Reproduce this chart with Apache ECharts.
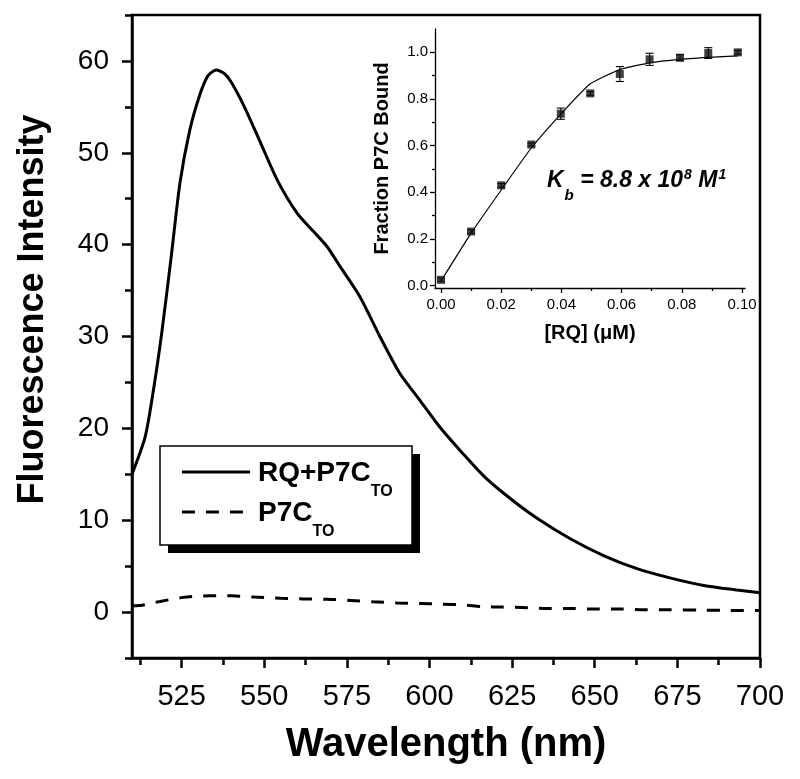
<!DOCTYPE html>
<html>
<head>
<meta charset="utf-8">
<script src="https://cdn.jsdelivr.net/npm/echarts@6/dist/echarts.min.js"></script>
<style>
html,body{margin:0;padding:0;background:#fff;}
#c{width:800px;height:779px;}
</style>
</head>
<body>
<div id="c"></div>
<script>
// ---- main spectrum data ----
const wlSolid = [510,514,516.5,519,522,524.5,527.5,530.5,533,535.5,538,540,544,549,554,560,565,569,573,579,585,591,597,603,610,617,625,633,643,653,663,673,683,693,700];
const fluorSolid = [15.0,19.1,24.2,30.4,39.1,46.7,52.5,56.3,58.4,59.0,58.6,57.7,55.0,51.0,47.0,43.4,41.4,39.8,37.6,34.3,30.0,26.0,23.1,20.2,17.3,14.6,12.2,10.1,7.9,6.1,4.7,3.7,2.9,2.4,2.1];
const wlDash = [510,513,518.5,525.5,533.5,540,547,555,562,569,576,583,590,597,604,610,616,622,628,636,643,650,658,665,672,682,691,700];
const fluorDash = [0.7,0.75,1.15,1.6,1.77,1.77,1.63,1.5,1.43,1.4,1.27,1.12,1.0,0.94,0.85,0.79,0.6,0.54,0.5,0.39,0.39,0.33,0.33,0.25,0.25,0.22,0.18,0.18];
const legendMain = ['RQ+P7C', 'P7C'];
const legendSub = ['TO', 'TO'];

// main axis ticks
const xMajorTicks = [525,550,575,600,625,650,675,700];
const xMinorTicks = [512.5,537.5,562.5,587.5,612.5,637.5,662.5,687.5];
const yMajorTicks = [0,10,20,30,40,50,60];
const yMinorTicks = [-5,5,15,25,35,45,55,65];

// ---- inset binding data ----
const rqConc = [0,0.01,0.02,0.03,0.0398,0.0496,0.0594,0.0693,0.0794,0.0888,0.0986];
const fracBound = [0.025,0.232,0.43,0.605,0.737,0.824,0.907,0.97,0.977,0.997,1.0];
const fracErr = [0.007,0.007,0.008,0.006,0.024,0.008,0.032,0.026,0.013,0.023,0.008];
const fitBound = [0.02,0.225,0.41,0.59,0.735,0.865,0.926,0.955,0.97,0.978,0.985];
const insetXMajor = [0,0.02,0.04,0.06,0.08,0.10];
const insetXMinor = [0.01,0.03,0.05,0.07,0.09];
const insetYMajor = [0,0.2,0.4,0.6,0.8,1.0];
const insetYMinor = [0.1,0.3,0.5,0.7,0.9];

const FONT = 'Liberation Sans, Arial, sans-serif';
const pairs = (xs, ys) => xs.map((x, i) => [x, ys[i]]);
const seriesNames = legendMain.map((m, i) => m + legendSub[i]);

const chart = echarts.init(document.getElementById('c'), null, {renderer: 'canvas'});

const richLegend = {
  m: {fontFamily: FONT, fontWeight: 'bold', fontSize: 28, lineHeight: 30, verticalAlign: 'middle', fill: '#000'},
  s: {fontFamily: FONT, fontWeight: 'bold', fontSize: 16, lineHeight: 16, padding: [38, 0, 0, 0], verticalAlign: 'middle', fill: '#000'}
};

// legend drawn as a framed box with a drop shadow
const LB = {x: 160, y: 446, w: 252, h: 99};
const legendGraphic = {
  type: 'group', z: 50,
  children: [
    {type: 'rect', shape: {x: LB.x + 8, y: LB.y + 8, width: LB.w, height: LB.h}, style: {fill: '#000'}},
    {type: 'rect', shape: {x: LB.x, y: LB.y, width: LB.w, height: LB.h}, style: {fill: '#fff', stroke: '#000', lineWidth: 1.5}},
    {type: 'line', shape: {x1: 182, y1: 472, x2: 250, y2: 472}, style: {stroke: '#000', lineWidth: 3}},
    {type: 'line', shape: {x1: 182, y1: 512, x2: 250, y2: 512}, style: {stroke: '#000', lineWidth: 3, lineDash: [13, 11]}},
    {type: 'text', x: 258, y: 473, style: {text: '{m|' + legendMain[0] + '}{s|' + legendSub[0] + '}', rich: richLegend, verticalAlign: 'middle', align: 'left'}},
    {type: 'text', x: 258, y: 513, style: {text: '{m|' + legendMain[1] + '}{s|' + legendSub[1] + '}', rich: richLegend, verticalAlign: 'middle', align: 'left'}}
  ]
};

const option = {
  backgroundColor: '#fff',
  animation: false,
  grid: [
    {left: 132, top: 15, right: 40, bottom: 121, show: true, borderColor: '#000', borderWidth: 2.5, backgroundColor: 'transparent'},
    {left: 435, top: 29, width: 310, height: 259}
  ],
  xAxis: [
    {
      type: 'value', gridIndex: 0, min: 510, max: 700, position: 'bottom',
      name: 'Wavelength (nm)', nameLocation: 'middle', nameGap: 67,
      nameTextStyle: {fontFamily: FONT, fontWeight: 'bold', fontSize: 40, color: '#000'},
      axisLine: {show: true, onZero: false, lineStyle: {color: '#000', width: 2.5}},
      axisTick: {show: true, length: 10, lineStyle: {color: '#000', width: 2.5}, customValues: xMajorTicks},
      axisLabel: {show: true, margin: 24, fontFamily: FONT, fontSize: 29, color: '#000', customValues: xMajorTicks},
      splitLine: {show: false}
    },
    {
      type: 'value', gridIndex: 0, min: 510, max: 700, position: 'bottom',
      axisLine: {show: false, onZero: false},
      axisTick: {show: true, length: 7, lineStyle: {color: '#000', width: 2.5}, customValues: xMinorTicks},
      axisLabel: {show: false},
      splitLine: {show: false}
    },
    {
      type: 'value', gridIndex: 1, min: -0.002, max: 0.101, position: 'bottom',
      name: '[RQ] (\u03BCM)', nameLocation: 'middle', nameGap: 35,
      nameTextStyle: {fontFamily: FONT, fontWeight: 'bold', fontSize: 20, color: '#000'},
      axisLine: {show: true, onZero: false, lineStyle: {color: '#000', width: 1.3}},
      axisTick: {show: true, length: 5, lineStyle: {color: '#000', width: 1.3}, customValues: insetXMajor},
      axisLabel: {show: true, margin: 9, fontFamily: FONT, fontSize: 15, color: '#000', customValues: insetXMajor,
        formatter: v => v.toFixed(2)},
      splitLine: {show: false}
    },
    {
      type: 'value', gridIndex: 1, min: -0.002, max: 0.101, position: 'bottom',
      axisLine: {show: false, onZero: false},
      axisTick: {show: true, length: 3, lineStyle: {color: '#000', width: 1.3}, customValues: insetXMinor},
      axisLabel: {show: false},
      splitLine: {show: false}
    }
  ],
  yAxis: [
    {
      type: 'value', gridIndex: 0, min: -5, max: 65, position: 'left',
      name: 'Fluorescence Intensity', nameLocation: 'middle', nameGap: 81,
      nameTextStyle: {fontFamily: FONT, fontWeight: 'bold', fontSize: 36, color: '#000', padding: [0, 0, 0, 54]},
      axisLine: {show: true, onZero: false, lineStyle: {color: '#000', width: 2.5}},
      axisTick: {show: true, length: 10, lineStyle: {color: '#000', width: 2.5}, customValues: yMajorTicks},
      axisLabel: {show: true, margin: 23, fontFamily: FONT, fontSize: 28, color: '#000', customValues: yMajorTicks},
      splitLine: {show: false}
    },
    {
      type: 'value', gridIndex: 0, min: -5, max: 65, position: 'left',
      axisLine: {show: false, onZero: false},
      axisTick: {show: true, length: 7, lineStyle: {color: '#000', width: 2.5}, customValues: yMinorTicks},
      axisLabel: {show: false},
      splitLine: {show: false}
    },
    {
      type: 'value', gridIndex: 1, min: -0.01, max: 1.1, position: 'left',
      name: 'Fraction P7C Bound', nameLocation: 'middle', nameGap: 43,
      nameTextStyle: {fontFamily: FONT, fontWeight: 'bold', fontSize: 20, color: '#000'},
      axisLine: {show: true, onZero: false, lineStyle: {color: '#000', width: 1.3}},
      axisTick: {show: true, length: 5, lineStyle: {color: '#000', width: 1.3}, customValues: insetYMajor},
      axisLabel: {show: true, margin: 7, fontFamily: FONT, fontSize: 15, color: '#000', customValues: insetYMajor,
        formatter: v => v.toFixed(1)},
      splitLine: {show: false}
    },
    {
      type: 'value', gridIndex: 1, min: -0.01, max: 1.1, position: 'left',
      axisLine: {show: false, onZero: false},
      axisTick: {show: true, length: 3, lineStyle: {color: '#000', width: 1.3}, customValues: insetYMinor},
      axisLabel: {show: false},
      splitLine: {show: false}
    }
  ],
  graphic: [
    legendGraphic,
    {
      type: 'text', left: 547, top: 158, z: 100,
      style: {
        text: '{k|K}{b|b}{t| = 8.8 x 10}{p|8}{t| M}{p|1}',
        fill: '#000',
        rich: {
          k: {fontFamily: FONT, fontWeight: 'bold', fontStyle: 'italic', fontSize: 23, lineHeight: 26, verticalAlign: 'middle'},
          t: {fontFamily: FONT, fontWeight: 'bold', fontStyle: 'italic', fontSize: 23, lineHeight: 26, verticalAlign: 'middle'},
          b: {fontFamily: FONT, fontWeight: 'bold', fontStyle: 'italic', fontSize: 15, lineHeight: 16, padding: [30, 0, 0, 1], verticalAlign: 'middle'},
          p: {fontFamily: FONT, fontWeight: 'bold', fontStyle: 'italic', fontSize: 14, lineHeight: 16, padding: [0, 0, 10, 1], verticalAlign: 'middle'}
        }
      }
    }
  ],
  series: [
    {
      name: seriesNames[0], type: 'line', xAxisIndex: 0, yAxisIndex: 0,
      data: pairs(wlSolid, fluorSolid), showSymbol: false, symbol: 'none', smooth: 0.25,
      lineStyle: {color: '#000', width: 3}, itemStyle: {color: '#000'}, clip: true
    },
    {
      name: seriesNames[1], type: 'line', xAxisIndex: 0, yAxisIndex: 0,
      data: pairs(wlDash, fluorDash), showSymbol: false, symbol: 'none', smooth: 0.25,
      lineStyle: {color: '#000', width: 3, type: [13, 11]}, itemStyle: {color: '#000'}, clip: true
    },
    {
      name: 'fit', type: 'line', xAxisIndex: 2, yAxisIndex: 2,
      data: pairs(rqConc, fitBound), showSymbol: false, symbol: 'none', smooth: 0.15,
      lineStyle: {color: '#000', width: 1.2}, z: 3
    },
    {
      name: 'err', type: 'custom', xAxisIndex: 2, yAxisIndex: 2, z: 4,
      data: rqConc.map((x, i) => [x, fracBound[i], fracErr[i]]),
      renderItem: function (params, api) {
        const x = api.value(0), y = api.value(1), e = api.value(2);
        const t = api.coord([x, y + e]);
        const b = api.coord([x, y - e]);
        const hw = 4;
        const st = {stroke: '#000', lineWidth: 1.1};
        return {
          type: 'group',
          children: [
            {type: 'line', shape: {x1: t[0], y1: t[1], x2: b[0], y2: b[1]}, style: st},
            {type: 'line', shape: {x1: t[0] - hw, y1: t[1], x2: t[0] + hw, y2: t[1]}, style: st},
            {type: 'line', shape: {x1: b[0] - hw, y1: b[1], x2: b[0] + hw, y2: b[1]}, style: st}
          ]
        };
      }
    },
    {
      name: 'points', type: 'scatter', xAxisIndex: 2, yAxisIndex: 2, z: 5,
      data: pairs(rqConc, fracBound), symbol: 'rect', symbolSize: 8,
      itemStyle: {color: '#111'}
    }
  ]
};

chart.setOption(option);
</script>
</body>
</html>
